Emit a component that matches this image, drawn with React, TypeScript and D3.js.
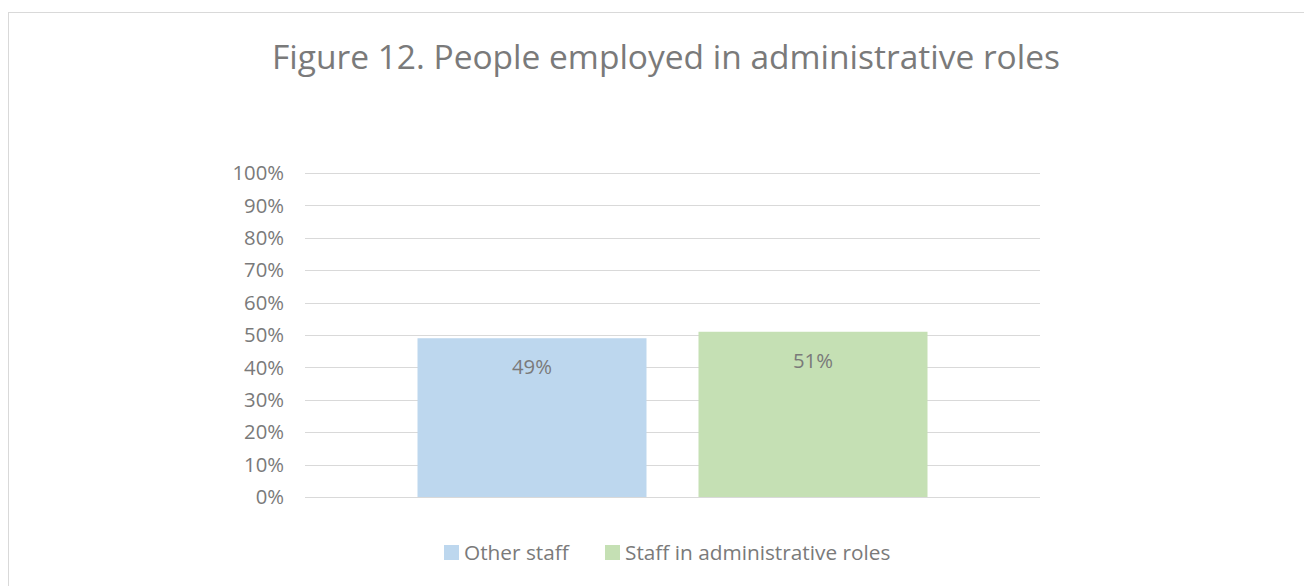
import React from "react";
import * as d3 from "d3";

const title = "Figure 12. People employed in administrative roles";
const seriesNames = ["Other staff", "Staff in administrative roles"];
const seriesValues = [0.49, 0.51];
const seriesColors = ["#BDD7EE", "#C5E0B4"];
const yTicks = [0, 0.1, 0.2, 0.3, 0.4, 0.5, 0.6, 0.7, 0.8, 0.9, 1.0];

const W = 1304;
const H = 586;
const FONT = "'Open Sans', sans-serif";
const TEXT = "#7a7a7a";

export default function App() {
  const plotLeft = 305;
  const plotRight = 1040;
  const y = d3.scaleLinear().domain([0, 1]).range([497, 173]);
  const cat = d3.scaleBand().domain(["all"]).range([plotLeft, plotRight]).paddingInner(0).paddingOuter(0);
  const groupWidth = 510;
  const groupX = (cat("all") as number) + (cat.bandwidth() - groupWidth) / 2;
  const x = d3.scaleBand().domain(seriesNames).range([groupX, groupX + groupWidth]).paddingInner(52 / 281).paddingOuter(0);
  const fmt = d3.format(".0%");

  const legendItems = [
    { name: seriesNames[0], color: seriesColors[0], x: 444 },
    { name: seriesNames[1], color: seriesColors[1], x: 605 },
  ];

  return (
    <svg width={W} height={H} style={{ position: "absolute", left: 0, top: 0, display: "block" }}>
      <rect x={0} y={0} width={W} height={H} fill="#ffffff" />
      <rect x={8.5} y={12.5} width={W + 20} height={H + 20} fill="#ffffff" stroke="#d9d9d9" strokeWidth={1} />
      <text x={666} y={69} textAnchor="middle" fontFamily={FONT} fontSize={33.5} fill={TEXT}>
        {title}
      </text>
      {yTicks.map((t) => (
        <g key={t}>
          <line x1={plotLeft} x2={plotRight} y1={Math.round(y(t)) + 0.5} y2={Math.round(y(t)) + 0.5} stroke="#d9d9d9" strokeWidth={1} />
          <text x={284} y={y(t)} dy="0.35em" textAnchor="end" fontFamily={FONT} fontSize={20.3} fill={TEXT}>
            {fmt(t)}
          </text>
        </g>
      ))}
      {seriesNames.map((s, i) => (
        <g key={s}>
          <rect x={x(s)} y={y(seriesValues[i])} width={x.bandwidth()} height={y(0) - y(seriesValues[i])} fill={seriesColors[i]} />
          <text
            x={(x(s) as number) + x.bandwidth() / 2}
            y={y(seriesValues[i]) + 29}
            dy="0.35em"
            textAnchor="middle"
            fontFamily={FONT}
            fontSize={20.3}
            fill={TEXT}
          >
            {fmt(seriesValues[i])}
          </text>
        </g>
      ))}
      {legendItems.map((it) => (
        <g key={it.name}>
          <rect x={it.x} y={545} width={15} height={15} fill={it.color} />
          <text x={it.x + 20} y={553} dy="0.35em" fontFamily={FONT} fontSize={20.8} fill={TEXT}>
            {it.name}
          </text>
        </g>
      ))}
    </svg>
  );
}
